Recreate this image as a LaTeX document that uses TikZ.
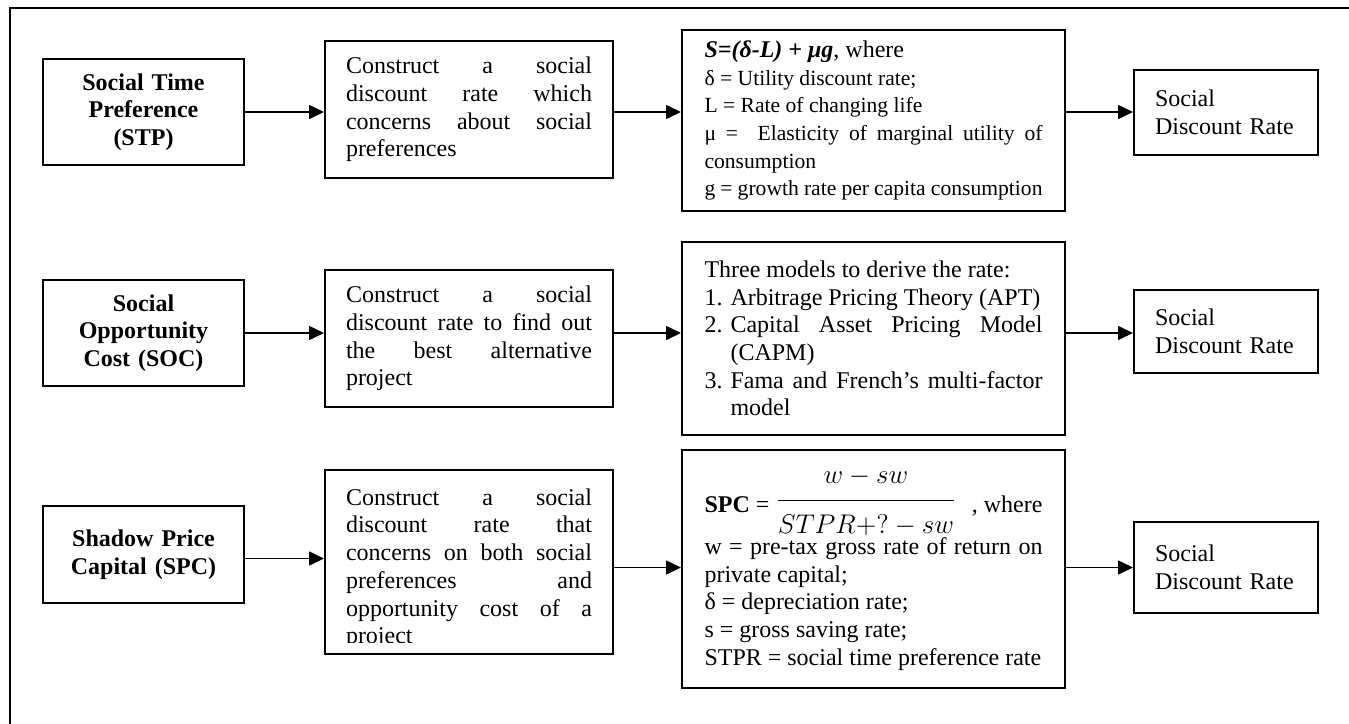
\RequirePackage{fix-cm}
\documentclass[tikz,border=0pt]{standalone}
\usepackage{fontspec}
\setmainfont{Liberation Serif}
\usepackage{amsmath}
\usetikzlibrary{arrows.meta}
\tolerance=10000
\hbadness=10000
\hyphenpenalty=10000
\newcommand{\modelitem}[1]{\par\hangindent=13pt\hangafter=1\noindent\makebox[13pt][l]{#1}}
\begin{document}
\begin{tikzpicture}[x=0.5pt,y=-0.5pt,
    box/.style={draw,line width=1pt,inner sep=0pt,font=\fontsize{12}{13.85}\selectfont},
    method/.style={box,minimum width=100.5pt,text width=90pt,align=center,font=\fontsize{12}{13.85}\selectfont\bfseries},
    idea/.style={box,minimum width=144pt,text width=123pt,align=justify},
    model/.style={box,minimum width=191.5pt,text width=169pt,align=justify},
    result/.style={box,minimum width=92pt,text width=71pt,align=left},
    arr/.style={line width=0.8pt,-{Triangle[length=7.5pt,width=7pt]}}]
      \useasboundingbox (0,0) rectangle (1349,723);
      \draw[line width=1pt] (10,740) -- (10,8) -- (1360,8);
      \node[method,minimum height=53pt] (stp) at (143.5,112) {Social Time\\Preference\\(STP)};
      \node[idea,minimum height=68.5pt] (cons1) at (469,109.5) {Construct a social\linebreak discount rate which\linebreak concerns about social\linebreak preferences};
      \node[model,minimum height=90.5pt] (frm1) at (873.5,120.5) {{\bfseries\itshape S=(δ-L) + μg}, where\par
        \fontsize{10.8}{12.7}\selectfont δ = Utility discount rate;\\L = Rate of changing life\\μ = \ Elasticity of marginal utility of\linebreak consumption\\g = growth rate per capita consumption};
      \node[result,minimum height=42.5pt] (rate1) at (1226,112.5) {Social\\Discount Rate};
      \node[method,minimum height=53pt] (soc) at (143.5,333) {Social\\Opportunity\\Cost (SOC)};
      \node[idea,minimum height=68.5pt] (cons2) at (469,338.5) {Construct a social\linebreak discount rate to find out\linebreak the best alternative\linebreak project};
      \node[model,minimum height=96.5pt] (frm2) at (873.5,338.5) {Three models to derive the rate:
        \modelitem{1.}Arbitrage Pricing Theory (APT)
        \modelitem{2.}Capital Asset Pricing Model\linebreak (CAPM)
        \modelitem{3.}Fama and French’s multi-factor\linebreak model\par};
      \node[result,minimum height=41.5pt] (rate2) at (1226,331.5) {Social\\Discount Rate};
      \node[method,minimum height=48.5pt] (spc) at (143.5,554.5) {Shadow Price\\Capital (SPC)};
      \node[idea,minimum height=92pt] (cons3) at (469,562) {\rule{0pt}{15pt}Construct a social\linebreak discount rate that\linebreak concerns on both social\linebreak preferences and\linebreak opportunity cost of a\linebreak project};
      \fill[white] ([shift={(1.1pt,1.1pt)}]cons3.south west) rectangle ([shift={(-1.1pt,6pt)}]cons3.south east);
      \node[model,minimum height=119pt] (frm3) at (873.5,569) {\textbf{SPC} = {\fontsize{13.5}{16}\selectfont\raisebox{2.5pt}{$\dfrac{\rule[-6.5pt]{0pt}{6.5pt}w-sw}{\rule{0pt}{14.5pt}STPR+?-sw}$}}\hfill, where\par
        w = pre-tax gross rate of return on\linebreak private capital;\\δ = depreciation rate;\\s = gross saving rate;\\STPR = social time preference rate};
      \node[result,minimum height=45.5pt] (rate3) at (1226,567.5) {Social\\Discount Rate};
      \draw[arr] (stp.east) -- (stp.east -| cons1.west);
      \draw[arr] (cons1.east |- stp.east) -- (stp.east -| frm1.west);
      \draw[arr] (frm1.east |- stp.east) -- (stp.east -| rate1.west);
      \draw[arr] (soc.east) -- (soc.east -| cons2.west);
      \draw[arr] (cons2.east |- soc.east) -- (soc.east -| frm2.west);
      \draw[arr] (frm2.east |- soc.east) -- (soc.east -| rate2.west);
      \draw[arr] ([yshift=-2pt]spc.east) -- ([yshift=-2pt]spc.east -| cons3.west);
      \draw[arr] (cons3.east |- rate3.west) -- (rate3.west -| frm3.west);
      \draw[arr] (frm3.east |- rate3.west) -- (rate3.west);
    \end{tikzpicture}
\end{document}
